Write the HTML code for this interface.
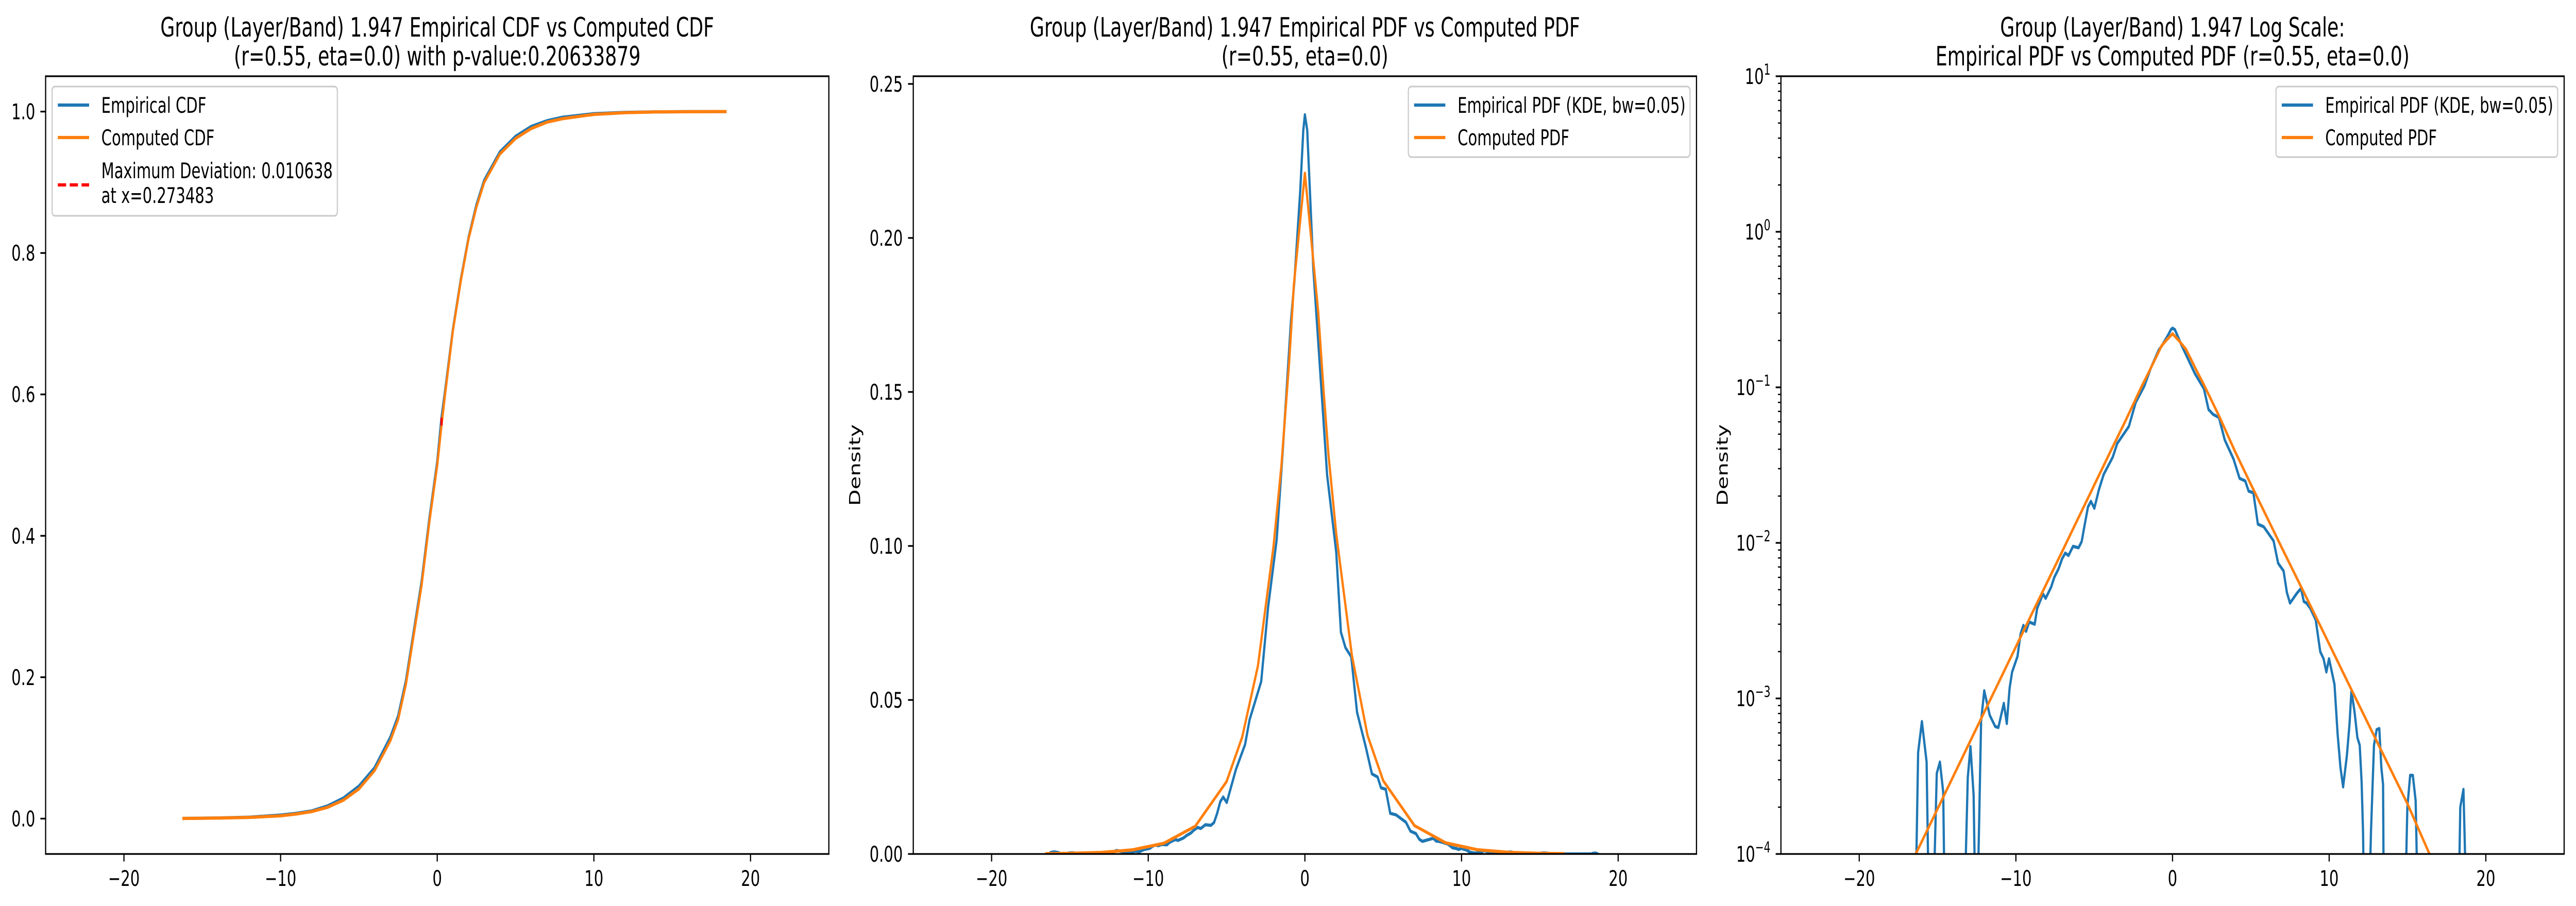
<!DOCTYPE html>
<html><head><meta charset="utf-8">
<style>
html,body{margin:0;padding:0;background:#fff;overflow:hidden;width:100%;height:100%;}
svg{display:block;width:100vw;height:100vh;font-family:"DejaVu Sans","Liberation Sans",sans-serif;}
</style></head>
<body>
<svg id="fig" viewBox="0 0 7170 1759" preserveAspectRatio="none" xmlns="http://www.w3.org/2000/svg">
<rect width="7170" height="1759" fill="#fff"/>
<defs>
<clipPath id="c1"><rect x="127" y="148" width="2180" height="1510"/></clipPath>
<clipPath id="c2"><rect x="2542" y="148" width="2180" height="1510"/></clipPath>
<clipPath id="c3"><rect x="4957" y="148" width="2180" height="1510"/></clipPath>
</defs>
</svg>
<script>
// ---- data ----
const cdfX = [-16.2,-14,-12,-10,-9,-8,-7,-6,-5,-4,-3,-2.5,-2,-1.5,-1,-0.5,0,0.27,0.5,1,1.5,2,2.5,3,4,5,6,7,8,10,12,14,16,18.4];
const compCdf = [0.0003,0.0008,0.0017,0.004,0.0065,0.010,0.016,0.026,0.042,0.068,0.11,0.14,0.19,0.26,0.33,0.42,0.50,0.556,0.60,0.69,0.76,0.82,0.865,0.90,0.94,0.962,0.976,0.985,0.990,0.996,0.9985,0.9995,0.9998,1.0];
const empCdf = [0.0003,0.0009,0.002,0.005,0.0075,0.011,0.018,0.029,0.046,0.072,0.115,0.145,0.195,0.265,0.335,0.425,0.505,0.567,0.605,0.692,0.762,0.822,0.868,0.903,0.943,0.965,0.979,0.987,0.992,0.997,0.9988,0.9996,0.9999,1.0];
const maxDevX = 0.273483;
const maxDevLow = 0.556;
const maxDevHigh = 0.567;
const compX = [-16.5,-15,-13,-11,-9,-7,-5,-4,-3,-2,-1.5,-1.0,-0.7,-0.35,0,0.4,0.85,1.2,1.5,2,3,4,5,7,9,11,13,15,16.5];
const compPdf = [9.5e-5,1.95e-4,5.1e-4,1.33e-3,3.47e-3,9.0e-3,0.0235,0.038,0.061,0.100,0.126,0.160,0.185,0.203,0.221,0.200,0.176,0.150,0.130,0.104,0.0645,0.0385,0.0238,0.0092,0.0036,1.39e-3,5.4e-4,2.1e-4,9.5e-5];
const empX = [-16.36,-16.24,-16.0,-15.7,-15.6,-15.2,-15.05,-14.85,-14.64,-14.58,-13.21,-13.07,-12.9,-12.7,-12.63,-12.4,-12.22,-12.02,-11.67,-11.32,-11.12,-10.77,-10.58,-10.4,-10.24,-9.9,-9.7,-9.52,-9.35,-9.15,-8.8,-8.64,-8.27,-8.1,-7.75,-7.55,-7.28,-7.05,-6.85,-6.64,-6.35,-6.0,-5.8,-5.6,-5.4,-5.21,-4.99,-4.7,-4.4,-3.82,-3.53,-2.79,-2.35,-1.8,-1.4,-0.89,-0.67,-0.3,-0.1,0,0.15,0.54,1.42,2.0,2.3,2.59,2.96,3.33,3.9,4.28,4.64,4.86,5.16,5.45,5.82,6.45,6.74,7.09,7.3,7.5,7.91,8.2,8.38,8.55,8.79,9.14,9.43,9.64,9.82,9.99,10.34,10.54,10.72,10.89,11.13,11.3,11.42,11.62,11.8,11.95,12.07,12.16,12.19,12.62,12.67,12.86,13.03,13.2,13.33,13.44,13.47,14.91,14.99,15.17,15.34,15.52,15.6,18.31,18.37,18.57,18.69];
const empPdf = [0,4.5e-4,7.1e-4,3.9e-4,0,0,3.3e-4,3.9e-4,2.5e-4,0,0,3.1e-4,4.9e-4,2.4e-4,0,0,7.2e-4,1.12e-3,7.8e-4,6.6e-4,6.5e-4,9.3e-4,6.9e-4,1.17e-3,1.48e-3,1.86e-3,2.6e-3,2.95e-3,2.7e-3,3.1e-3,3.0e-3,3.8e-3,4.7e-3,4.4e-3,5.2e-3,6.0e-3,6.8e-3,7.9e-3,8.6e-3,8.3e-3,9.5e-3,9.3e-3,1.02e-2,1.32e-2,1.7e-2,1.85e-2,1.67e-2,2.2e-2,2.75e-2,3.55e-2,4.36e-2,5.6e-2,8.0e-2,0.102,0.132,0.173,0.186,0.215,0.235,0.24,0.235,0.19,0.123,0.098,0.072,0.067,0.064,0.046,0.0345,0.026,0.025,0.0215,0.021,0.0132,0.0127,0.0103,0.0074,0.0066,0.0048,0.0041,0.0047,0.0051,0.0042,0.0041,0.0038,0.0032,0.0020,0.0018,0.00148,0.0018,0.00123,5.9e-4,3.6e-4,2.7e-4,4.3e-4,6.9e-4,1.12e-3,8.2e-4,5.6e-4,5.0e-4,2.9e-4,1.4e-4,0,0,1.4e-4,5.0e-4,6.3e-4,6.4e-4,3.6e-4,2.8e-4,0,0,2.0e-4,3.2e-4,3.2e-4,2.2e-4,0,0,2.0e-4,2.6e-4,0];
const xTicks = [-20,-10,0,10,20];
const xTickLabels = ["\u221220","\u221210","0","10","20"];
const cdfYTicks = [0,0.2,0.4,0.6,0.8,1.0];
const cdfYLabels = ["0.0","0.2","0.4","0.6","0.8","1.0"];
const pdfYTicks = [0,0.05,0.10,0.15,0.20,0.25];
const pdfYLabels = ["0.00","0.05","0.10","0.15","0.20","0.25"];
const logExps = [-4,-3,-2,-1,0,1];

// ---- helpers ----
const NS = "http://www.w3.org/2000/svg";
const svg = document.getElementById('fig');
function mk(tag, attrs, parent){
  const e = document.createElementNS(NS, tag);
  for (const k in attrs) e.setAttribute(k, attrs[k]);
  (parent||svg).appendChild(e);
  return e;
}
const TOP=148, BOT=1658, W=2180;
const LEFTS=[127,2542,4957];
const BLUE="#1f77b4", ORANGE="#ff7f0e";
function xs(i){ const L=LEFTS[i]; return v => L + (v+25)/50*W; }
const yCdf = v => BOT - (v+0.05)/1.1*(BOT-TOP);
const yPdf = v => BOT - v/0.2525*(BOT-TOP);
const yLog = v => v<=0 ? BOT+20 : Math.min(BOT+20, BOT - (Math.log10(v)+4)/5*(BOT-TOP));

function line(g, X, Y, fx, fy, color, name, clip){
  let d='';
  for (let i=0;i<X.length;i++) d += (i?'L':'M')+fx(X[i]).toFixed(1)+' '+fy(Y[i]).toFixed(1);
  const p = mk('path',{d:d,fill:'none',stroke:color,'stroke-width':6.25,'stroke-linejoin':'round','stroke-linecap':'square','clip-path':'url(#'+clip+')'},g);
  
  
  return p;
}
function text(g, x, y, s, anchor, size, name){
  const t = mk('text',{x:x,y:y,'font-size':size||41.7,'text-anchor':anchor||'middle',fill:'#000'},g);
  t.textContent = s;
  
  
  return t;
}
function frame(g, i){
  const r = mk('rect',{x:LEFTS[i],y:TOP,width:W,height:BOT-TOP,fill:'none',stroke:'#000','stroke-width':3.3},g);
  
  
}
function xAxis(g, i){
  const fx = xs(i);
  const ga = mk('g',{},g);
  
  
  xTicks.forEach((v,k)=>{
    mk('line',{x1:fx(v),x2:fx(v),y1:BOT,y2:BOT+14.6,stroke:'#000','stroke-width':3.3},ga);
    text(ga, fx(v), BOT+62, xTickLabels[k], 'middle', 41.7, 'x-tick-label');
  });
}
function yAxisLin(g, i, ticks, labels, fy){
  const L = LEFTS[i];
  const ga = mk('g',{},g);
  
  
  ticks.forEach((v,k)=>{
    mk('line',{x1:L-14.6,x2:L,y1:fy(v),y2:fy(v),stroke:'#000','stroke-width':3.3},ga);
    text(ga, L-29, fy(v)+15, labels[k], 'end', 41.7, 'y-tick-label');
  });
}
function legend(g, x, y, w, h, entries){
  const lg = mk('g',{},g);
  
  
  mk('rect',{x:x,y:y,width:w,height:h,rx:8,fill:'#fff','fill-opacity':0.8,stroke:'#cccccc','stroke-width':3.3},lg);
  entries.forEach(e=>{
    const hl = mk('line',{x1:x+16,x2:x+103,y1:e.hy,y2:e.hy,stroke:e.color,'stroke-width':6.25,'stroke-dasharray':e.dash||'none'},lg);
    
    
    e.lines.forEach((s,k)=> text(lg, x+137, e.ty[k], s, 'start', 41.7, 'legend-entry'));
  });
}

// ---- panel 1: CDF ----
const g1 = mk('g',{});  
line(g1, cdfX, empCdf, xs(0), yCdf, BLUE, 'empirical-cdf-line', 'c1');
line(g1, cdfX, compCdf, xs(0), yCdf, ORANGE, 'computed-cdf-line', 'c1');
const dev = mk('line',{x1:xs(0)(maxDevX),x2:xs(0)(maxDevX),y1:yCdf(maxDevLow),y2:yCdf(maxDevHigh),stroke:'#ff0000','stroke-width':6.25,'stroke-dasharray':'23 10'},g1);


frame(g1,0); xAxis(g1,0); yAxisLin(g1,0,cdfYTicks,cdfYLabels,yCdf);
text(g1, 1217, 71, 'Group (Layer/Band) 1.947 Empirical CDF vs Computed CDF', 'middle', 52, 'chart-title');
text(g1, 1217, 127, '(r=0.55, eta=0.0) with p-value:0.20633879', 'middle', 52, 'chart-title');
legend(g1, 145, 168, 794, 251, [
  {color:BLUE, hy:204, ty:[219], lines:['Empirical CDF']},
  {color:ORANGE, hy:267, ty:[282], lines:['Computed CDF']},
  {color:'#ff0000', hy:359, ty:[346,394], lines:['Maximum Deviation: 0.010638','at x=0.273483'], dash:'23 10'}
]);

// ---- panel 2: PDF ----
const g2 = mk('g',{});  
line(g2, empX, empPdf, xs(1), yPdf, BLUE, 'empirical-pdf-line', 'c2');
line(g2, compX, compPdf, xs(1), yPdf, ORANGE, 'computed-pdf-line', 'c2');
frame(g2,1); xAxis(g2,1); yAxisLin(g2,1,pdfYTicks,pdfYLabels,yPdf);
text(g2, 3632, 71, 'Group (Layer/Band) 1.947 Empirical PDF vs Computed PDF', 'middle', 52, 'chart-title');
text(g2, 3632, 127, '(r=0.55, eta=0.0)', 'middle', 52, 'chart-title');
const yl2 = text(g2, 0, 0, 'Density', 'middle', 41.7, 'y-axis-title');
yl2.setAttribute('transform','translate(2394,903) rotate(-90)');
legend(g2, 3920, 168, 784, 137, [
  {color:BLUE, hy:204, ty:[219], lines:['Empirical PDF (KDE, bw=0.05)']},
  {color:ORANGE, hy:267, ty:[282], lines:['Computed PDF']}
]);

// ---- panel 3: log PDF ----
const g3 = mk('g',{});  
line(g3, empX, empPdf, xs(2), yLog, BLUE, 'empirical-pdf-log-line', 'c3');
line(g3, compX, compPdf, xs(2), yLog, ORANGE, 'computed-pdf-log-line', 'c3');
frame(g3,2); xAxis(g3,2);
const ya3 = mk('g',{},g3);


const L3 = LEFTS[2];
logExps.forEach(e=>{
  const y = yLog(Math.pow(10,e));
  mk('line',{x1:L3-14.6,x2:L3,y1:y,y2:y,stroke:'#000','stroke-width':3.3},ya3);
  const t = mk('text',{x:L3-29,y:y+15,'font-size':41.7,'text-anchor':'end'},ya3);
  
  
  const a = mk('tspan',{},t); a.textContent='10';
  const b = mk('tspan',{dy:-18,'font-size':29}, t); b.textContent = e<0 ? '\u2212'+(-e) : String(e);
  if (e<1) for (let m=2;m<=9;m++){
    const ym = yLog(m*Math.pow(10,e));
    mk('line',{x1:L3-8.3,x2:L3,y1:ym,y2:ym,stroke:'#000','stroke-width':2.5},ya3);
  }
});
text(g3, 6047, 71, 'Group (Layer/Band) 1.947 Log Scale:', 'middle', 52, 'chart-title');
text(g3, 6047, 127, 'Empirical PDF vs Computed PDF (r=0.55, eta=0.0)', 'middle', 52, 'chart-title');
const yl3 = text(g3, 0, 0, 'Density', 'middle', 41.7, 'y-axis-title');
yl3.setAttribute('transform','translate(4809,903) rotate(-90)');
legend(g3, 6335, 168, 784, 137, [
  {color:BLUE, hy:204, ty:[219], lines:['Empirical PDF (KDE, bw=0.05)']},
  {color:ORANGE, hy:267, ty:[282], lines:['Computed PDF']}
]);
</script>
</body></html>
